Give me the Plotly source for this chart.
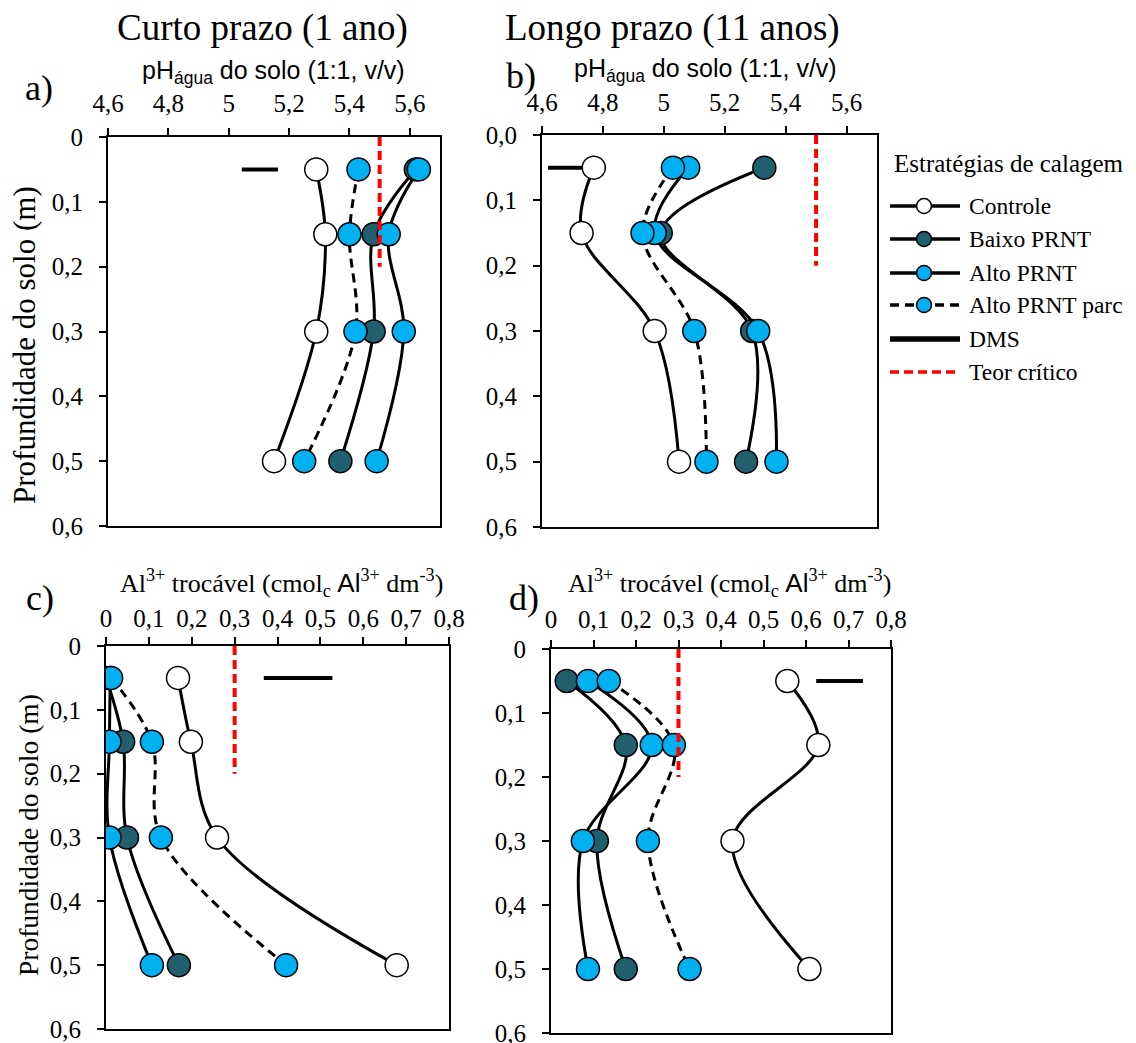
import plotly.graph_objects as go

W, H = 1136, 1043

# ---------------- data ----------------
depth = [0.05, 0.15, 0.30, 0.50]
series_names = ["Controle", "Baixo PRNT", "Alto PRNT", "Alto PRNT parc"]

# pH em água - curto prazo (1 ano)
ph_curto_controle = [5.29, 5.32, 5.29, 5.15]
ph_curto_baixo = [5.62, 5.48, 5.48, 5.37]
ph_curto_alto = [5.63, 5.53, 5.58, 5.49]
ph_curto_alto_parc = [5.43, 5.40, 5.42, 5.25]

# pH em água - longo prazo (11 anos)
ph_longo_controle = [4.77, 4.73, 4.97, 5.05]
ph_longo_baixo = [5.33, 4.99, 5.29, 5.27]
ph_longo_alto = [5.08, 4.97, 5.31, 5.37]
ph_longo_alto_parc = [5.03, 4.93, 5.10, 5.14]

# Al3+ trocavel - curto prazo (1 ano)
al_curto_controle = [0.168, 0.198, 0.259, 0.678]
al_curto_baixo = [0.000, 0.040, 0.049, 0.170]
al_curto_alto = [0.010, 0.008, 0.008, 0.107]
al_curto_alto_parc = [0.012, 0.107, 0.128, 0.420]

# Al3+ trocavel - longo prazo (11 anos)
al_longo_controle = [0.556, 0.629, 0.427, 0.608]
al_longo_baixo = [0.037, 0.176, 0.108, 0.176]
al_longo_alto = [0.087, 0.237, 0.075, 0.087]
al_longo_alto_parc = [0.136, 0.289, 0.228, 0.326]

# diferenca minima significativa (a, b, c, d)
dms = [0.12, 0.14, 0.16, 0.11]
dms_depth = 0.05

# teor critico (pH 5,5 ; Al 0,3 cmolc dm-3), drawn down to 0,2 m
teor_critico = [5.5, 5.5, 0.3, 0.3]
critico_depth = [0.0, 0.2]

# tick values / labels
ph_ticks = [4.6, 4.8, 5.0, 5.2, 5.4, 5.6]
ph_ticktext = ["4,6", "4,8", "5", "5,2", "5,4", "5,6"]
al_ticks = [0, 0.1, 0.2, 0.3, 0.4, 0.5, 0.6, 0.7, 0.8]
al_ticktext = ["0", "0,1", "0,2", "0,3", "0,4", "0,5", "0,6", "0,7", "0,8"]
depth_ticks = [0, 0.1, 0.2, 0.3, 0.4, 0.5, 0.6]
depth_ticktext = ["0", "0,1", "0,2", "0,3", "0,4", "0,5", "0,6"]
depth_ticktext_b = ["0,0", "0,1", "0,2", "0,3", "0,4", "0,5", "0,6"]

# ---------------- styling ----------------
SERIF = "Liberation Serif, Times New Roman, serif"
SANS = "Liberation Sans, Arial, sans-serif"
COL_BAIXO = "#215E6E"
COL_ALTO = "#00B0F0"
fills = ["white", COL_BAIXO, COL_ALTO, COL_ALTO]
dashes = ["solid", "solid", "solid", "9px,6px"]


def fx(px):
    return px / W


def fy(py):
    return 1 - py / H


panels = [
    dict(ax="", xd=(108, 440), yd=(137, 526), xr=[4.6, 5.7], tv=ph_ticks, tt=ph_ticktext,
         ytt=depth_ticktext, data=[ph_curto_controle, ph_curto_baixo, ph_curto_alto, ph_curto_alto_parc],
         dms=dms[0], dms_x0=5.043, crit=teor_critico[0], xso=6),
    dict(ax="2", xd=(542, 877), yd=(135, 527), xr=[4.6, 5.7], tv=ph_ticks, tt=ph_ticktext,
         ytt=depth_ticktext_b, data=[ph_longo_controle, ph_longo_baixo, ph_longo_alto, ph_longo_alto_parc],
         dms=dms[1], dms_x0=4.62, crit=teor_critico[1], xso=5),
    dict(ax="3", xd=(106, 449), yd=(646, 1029), xr=[0, 0.8], tv=al_ticks, tt=al_ticktext,
         ytt=depth_ticktext, data=[al_curto_controle, al_curto_baixo, al_curto_alto, al_curto_alto_parc],
         dms=dms[2], dms_x0=0.368, crit=teor_critico[2], xso=0),
    dict(ax="4", xd=(551, 891), yd=(649, 1033), xr=[0, 0.8], tv=al_ticks, tt=al_ticktext,
         ytt=depth_ticktext, data=[al_longo_controle, al_longo_baixo, al_longo_alto, al_longo_alto_parc],
         dms=dms[3], dms_x0=0.624, crit=teor_critico[3], xso=2),
]

fig = go.Figure()
layout_axes = {}

for p in panels:
    xa, ya = "x" + p["ax"], "y" + p["ax"]
    # DMS bar
    fig.add_trace(go.Scatter(
        x=[p["dms_x0"], p["dms_x0"] + p["dms"]], y=[dms_depth, dms_depth],
        mode="lines", line=dict(color="black", width=4),
        xaxis=xa, yaxis=ya, hoverinfo="skip"))
    # treatment profiles
    for vals, name, fill, dash in zip(p["data"], series_names, fills, dashes):
        fig.add_trace(go.Scatter(
            x=vals, y=depth, name=name, mode="lines+markers",
            line=dict(color="black", width=3, shape="spline", smoothing=1, dash=dash),
            marker=dict(size=23, color=fill, line=dict(color="black", width=1.5)),
            xaxis=xa, yaxis=ya))
    # critical level
    fig.add_trace(go.Scatter(
        x=[p["crit"], p["crit"]], y=critico_depth, mode="lines",
        line=dict(color="#FF0000", width=4, dash="9px,5px"),
        xaxis=xa, yaxis=ya, hoverinfo="skip"))

    axis_common = dict(showline=True, linecolor="black", linewidth=2, mirror=True,
                       ticks="outside", ticklen=7, tickwidth=1.5, tickcolor="black",
                       showgrid=False, zeroline=False, automargin=False,
                       ticklabeloverflow="allow",
                       tickfont=dict(family=SERIF, size=25, color="black"))
    xkey = "xaxis" + p["ax"]
    ykey = "yaxis" + p["ax"]
    layout_axes[xkey] = dict(axis_common, domain=[fx(p["xd"][0]), fx(p["xd"][1])],
                             range=p["xr"], side="top", anchor=ya,
                             tickvals=p["tv"], ticktext=p["tt"], ticklabelstandoff=p["xso"])
    layout_axes[ykey] = dict(axis_common, domain=[fy(p["yd"][1]), fy(p["yd"][0])],
                             range=[0.6, 0], anchor=xa,
                             tickvals=depth_ticks, ticktext=p["ytt"], ticklabelstandoff=11)

annotations = []


def note(text, px, py, size, family=SERIF, xanchor="center", textangle=0):
    annotations.append(dict(text=text, x=fx(px), y=fy(py), xref="paper", yref="paper",
                            xanchor=xanchor, yanchor="middle", showarrow=False,
                            textangle=textangle,
                            font=dict(family=family, size=size, color="black")))


# headers
note("Curto prazo (1 ano)", 262, 28, 37)
note("Longo prazo (11 anos)", 672, 28, 37)
# panel letters
note("a)", 39, 88, 36)
note("b)", 521, 76, 36)
note("c)", 40, 598, 36)
note("d)", 524, 598, 36)
# axis titles
ph_title = "pH<sub>água</sub> do solo (1:1, v/v)"
note(ph_title, 273, 72, 25, family=SANS)
note(ph_title, 705, 70, 25, family=SANS)
al_title = ("Al<sup>3+</sup> trocável (cmol<sub>c</sub> "
            "<span style='font-family:Liberation Sans, Arial'>Al</span><sup>3+</sup> dm<sup>-3</sup>)")
note(al_title, 281, 583, 26)
note(al_title, 729, 583, 26)
note("Profundidade do solo (m)", 24, 345, 31, textangle=-90)
note("Profundidade do solo (m)", 28, 835, 27.5, textangle=-90)

# legend (drawn by hand so the key lines match the long Excel-style samples)
shapes = []
note("Estratégias de calagem", 1009, 164, 25)
leg_rows = [206, 239, 273, 305, 339, 372]
leg_labels = series_names + ["DMS", "Teor crítico"]
leg_x0, leg_x1, leg_mx, r = 890, 960, 924, 7.5
for i, (yy, lab) in enumerate(zip(leg_rows, leg_labels)):
    if i < 4:
        shapes.append(dict(type="line", xref="paper", yref="paper",
                           x0=fx(leg_x0), x1=fx(leg_x1), y0=fy(yy), y1=fy(yy),
                           line=dict(color="black", width=3.5, dash=dashes[i])))
        shapes.append(dict(type="circle", xref="paper", yref="paper",
                           x0=fx(leg_mx - r), x1=fx(leg_mx + r), y0=fy(yy + r), y1=fy(yy - r),
                           fillcolor=fills[i], line=dict(color="black", width=1.5)))
    elif i == 4:
        shapes.append(dict(type="line", xref="paper", yref="paper",
                           x0=fx(leg_x0), x1=fx(leg_x1), y0=fy(yy), y1=fy(yy),
                           line=dict(color="black", width=5.5)))
    else:
        shapes.append(dict(type="line", xref="paper", yref="paper",
                           x0=fx(leg_x0), x1=fx(leg_x1), y0=fy(yy), y1=fy(yy),
                           line=dict(color="#FF0000", width=3.5, dash="9px,5px")))
    note(lab, 967, yy, 23.5, xanchor="left")

fig.update_layout(
    width=W, height=H, margin=dict(l=0, r=0, t=0, b=0),
    paper_bgcolor="white", plot_bgcolor="white", showlegend=False,
    template="none", annotations=annotations, shapes=shapes,
    **layout_axes)

fig.write_html("out.html", config={"displayModeBar": False})
